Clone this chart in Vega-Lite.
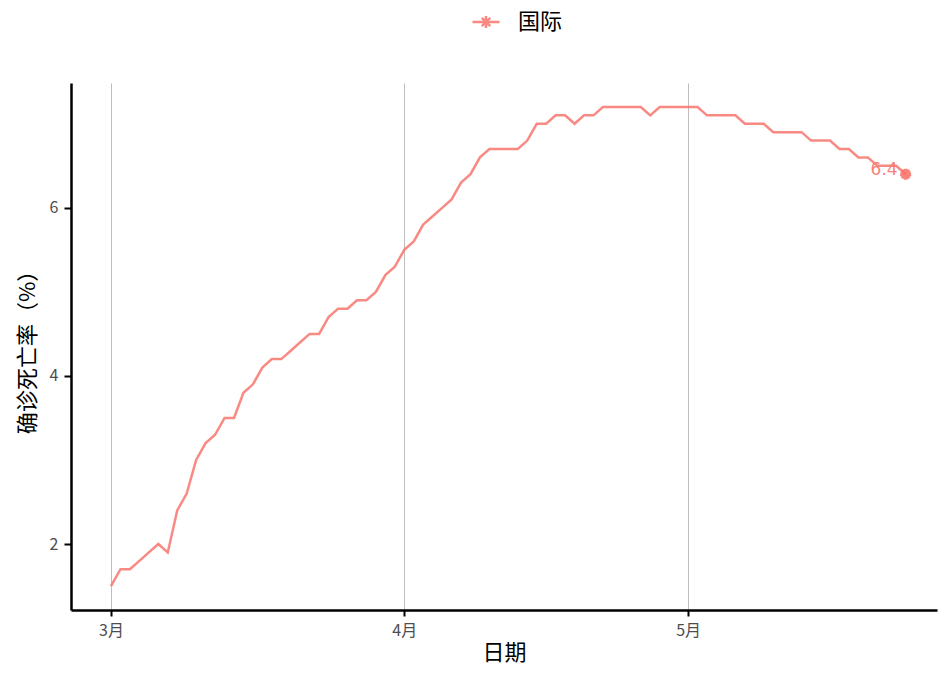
{
  "$schema": "https://vega.github.io/schema/vega-lite/v6.json",
  "width": 866,
  "height": 527,
  "autosize": "none",
  "padding": {"left": 71, "top": 83, "right": 2, "bottom": 71},
  "background": "white",
  "config": {
    "font": "Noto Sans CJK SC",
    "view": {"stroke": null},
    "axis": {"labelFont": "Noto Sans CJK SC", "titleFont": "Noto Sans CJK SC"}
  },
  "data": {
    "values": [
      {"date": "2020-03-01T00:00:00", "rate": 1.5},
      {"date": "2020-03-02T00:00:00", "rate": 1.7},
      {"date": "2020-03-03T00:00:00", "rate": 1.7},
      {"date": "2020-03-04T00:00:00", "rate": 1.8},
      {"date": "2020-03-05T00:00:00", "rate": 1.9},
      {"date": "2020-03-06T00:00:00", "rate": 2.0},
      {"date": "2020-03-07T00:00:00", "rate": 1.9},
      {"date": "2020-03-08T00:00:00", "rate": 2.4},
      {"date": "2020-03-09T00:00:00", "rate": 2.6},
      {"date": "2020-03-10T00:00:00", "rate": 3.0},
      {"date": "2020-03-11T00:00:00", "rate": 3.2},
      {"date": "2020-03-12T00:00:00", "rate": 3.3},
      {"date": "2020-03-13T00:00:00", "rate": 3.5},
      {"date": "2020-03-14T00:00:00", "rate": 3.5},
      {"date": "2020-03-15T00:00:00", "rate": 3.8},
      {"date": "2020-03-16T00:00:00", "rate": 3.9},
      {"date": "2020-03-17T00:00:00", "rate": 4.1},
      {"date": "2020-03-18T00:00:00", "rate": 4.2},
      {"date": "2020-03-19T00:00:00", "rate": 4.2},
      {"date": "2020-03-20T00:00:00", "rate": 4.3},
      {"date": "2020-03-21T00:00:00", "rate": 4.4},
      {"date": "2020-03-22T00:00:00", "rate": 4.5},
      {"date": "2020-03-23T00:00:00", "rate": 4.5},
      {"date": "2020-03-24T00:00:00", "rate": 4.7},
      {"date": "2020-03-25T00:00:00", "rate": 4.8},
      {"date": "2020-03-26T00:00:00", "rate": 4.8},
      {"date": "2020-03-27T00:00:00", "rate": 4.9},
      {"date": "2020-03-28T00:00:00", "rate": 4.9},
      {"date": "2020-03-29T00:00:00", "rate": 5.0},
      {"date": "2020-03-30T00:00:00", "rate": 5.2},
      {"date": "2020-03-31T00:00:00", "rate": 5.3},
      {"date": "2020-04-01T00:00:00", "rate": 5.5},
      {"date": "2020-04-02T00:00:00", "rate": 5.6},
      {"date": "2020-04-03T00:00:00", "rate": 5.8},
      {"date": "2020-04-04T00:00:00", "rate": 5.9},
      {"date": "2020-04-05T00:00:00", "rate": 6.0},
      {"date": "2020-04-06T00:00:00", "rate": 6.1},
      {"date": "2020-04-07T00:00:00", "rate": 6.3},
      {"date": "2020-04-08T00:00:00", "rate": 6.4},
      {"date": "2020-04-09T00:00:00", "rate": 6.6},
      {"date": "2020-04-10T00:00:00", "rate": 6.7},
      {"date": "2020-04-11T00:00:00", "rate": 6.7},
      {"date": "2020-04-12T00:00:00", "rate": 6.7},
      {"date": "2020-04-13T00:00:00", "rate": 6.7},
      {"date": "2020-04-14T00:00:00", "rate": 6.8},
      {"date": "2020-04-15T00:00:00", "rate": 7.0},
      {"date": "2020-04-16T00:00:00", "rate": 7.0},
      {"date": "2020-04-17T00:00:00", "rate": 7.1},
      {"date": "2020-04-18T00:00:00", "rate": 7.1},
      {"date": "2020-04-19T00:00:00", "rate": 7.0},
      {"date": "2020-04-20T00:00:00", "rate": 7.1},
      {"date": "2020-04-21T00:00:00", "rate": 7.1},
      {"date": "2020-04-22T00:00:00", "rate": 7.2},
      {"date": "2020-04-23T00:00:00", "rate": 7.2},
      {"date": "2020-04-24T00:00:00", "rate": 7.2},
      {"date": "2020-04-25T00:00:00", "rate": 7.2},
      {"date": "2020-04-26T00:00:00", "rate": 7.2},
      {"date": "2020-04-27T00:00:00", "rate": 7.1},
      {"date": "2020-04-28T00:00:00", "rate": 7.2},
      {"date": "2020-04-29T00:00:00", "rate": 7.2},
      {"date": "2020-04-30T00:00:00", "rate": 7.2},
      {"date": "2020-05-01T00:00:00", "rate": 7.2},
      {"date": "2020-05-02T00:00:00", "rate": 7.2},
      {"date": "2020-05-03T00:00:00", "rate": 7.1},
      {"date": "2020-05-04T00:00:00", "rate": 7.1},
      {"date": "2020-05-05T00:00:00", "rate": 7.1},
      {"date": "2020-05-06T00:00:00", "rate": 7.1},
      {"date": "2020-05-07T00:00:00", "rate": 7.0},
      {"date": "2020-05-08T00:00:00", "rate": 7.0},
      {"date": "2020-05-09T00:00:00", "rate": 7.0},
      {"date": "2020-05-10T00:00:00", "rate": 6.9},
      {"date": "2020-05-11T00:00:00", "rate": 6.9},
      {"date": "2020-05-12T00:00:00", "rate": 6.9},
      {"date": "2020-05-13T00:00:00", "rate": 6.9},
      {"date": "2020-05-14T00:00:00", "rate": 6.8},
      {"date": "2020-05-15T00:00:00", "rate": 6.8},
      {"date": "2020-05-16T00:00:00", "rate": 6.8},
      {"date": "2020-05-17T00:00:00", "rate": 6.7},
      {"date": "2020-05-18T00:00:00", "rate": 6.7},
      {"date": "2020-05-19T00:00:00", "rate": 6.6},
      {"date": "2020-05-20T00:00:00", "rate": 6.6},
      {"date": "2020-05-21T00:00:00", "rate": 6.5},
      {"date": "2020-05-22T00:00:00", "rate": 6.5},
      {"date": "2020-05-23T00:00:00", "rate": 6.5},
      {"date": "2020-05-24T00:00:00", "rate": 6.4}
    ]
  },
  "encoding": {
    "x": {
      "field": "date",
      "type": "temporal",
      "scale": {"domain": [
        {"year": 2020, "month": 2, "date": 25, "hours": 18, "minutes": 30},
        {"year": 2020, "month": 5, "date": 27, "hours": 7, "minutes": 30}
      ]},
      "axis": {
        "title": "日期",
        "titleFontSize": 22,
        "titleFontWeight": "normal",
        "titleColor": "black",
        "titlePadding": 4,
        "tickCount": {"interval": "month", "step": 1},
        "format": "%-m月",
        "labelFontSize": 16,
        "labelColor": "#4d4d4d",
        "labelPadding": 6,
        "labelFlush": false,
        "grid": true,
        "gridColor": "#bebebe",
        "gridWidth": 1,
        "domainColor": "black",
        "domainWidth": 2.5,
        "tickColor": "black",
        "tickWidth": 2,
        "tickSize": 6
      }
    },
    "y": {
      "field": "rate",
      "type": "quantitative",
      "scale": {"domain": [1.215, 7.485], "nice": false, "zero": false},
      "axis": {
        "title": "确诊死亡率（%）",
        "titleFontSize": 22,
        "titleFontWeight": "normal",
        "titleColor": "black",
        "titlePadding": 10,
        "values": [2, 4, 6],
        "labelFontSize": 16,
        "labelColor": "#4d4d4d",
        "labelPadding": 6,
        "grid": false,
        "domainColor": "black",
        "domainWidth": 2.5,
        "tickColor": "black",
        "tickWidth": 2,
        "tickSize": 7
      }
    }
  },
  "layer": [
    {
      "mark": {"type": "line", "strokeWidth": 2.5, "opacity": 0.85, "clip": true},
      "encoding": {
        "color": {
          "datum": "国际",
          "scale": {"range": ["#F8766D"]},
          "legend": {
            "title": null,
            "orient": "none",
            "legendX": 404,
            "legendY": -72,
            "labelFontSize": 22,
            "labelColor": "black",
            "labelFont": "Noto Sans CJK SC",
            "symbolType": "M-1.6,0L1.6,0M0,-0.7L0,0.7M-0.5,-0.5L0.5,0.5M-0.5,0.5L0.5,-0.5",
            "symbolSize": 285,
            "symbolStrokeWidth": 2.5,
            "symbolFillColor": "transparent",
            "symbolOpacity": 0.85,
            "labelOffset": 21
          }
        }
      }
    },
    {
      "transform": [{"filter": {"field": "date", "equal": {"year": 2020, "month": 5, "date": 24}}}],
      "mark": {
        "type": "point",
        "shape": "M-1,0L1,0M0,-1L0,1M-0.7,-0.7L0.7,0.7M-0.7,0.7L0.7,-0.7",
        "size": 120,
        "strokeWidth": 3.5,
        "filled": false,
        "opacity": 0.9,
        "color": "#F8766D"
      }
    },
    {
      "transform": [{"filter": {"field": "date", "equal": {"year": 2020, "month": 5, "date": 24}}}],
      "mark": {
        "type": "text",
        "align": "right",
        "baseline": "middle",
        "dx": -8,
        "dy": -4,
        "fontSize": 17,
        "color": "#F8766D",
        "opacity": 0.9,
        "font": "DejaVu Sans"
      },
      "encoding": {"text": {"field": "rate", "type": "quantitative", "format": ".1f"}}
    }
  ]
}
